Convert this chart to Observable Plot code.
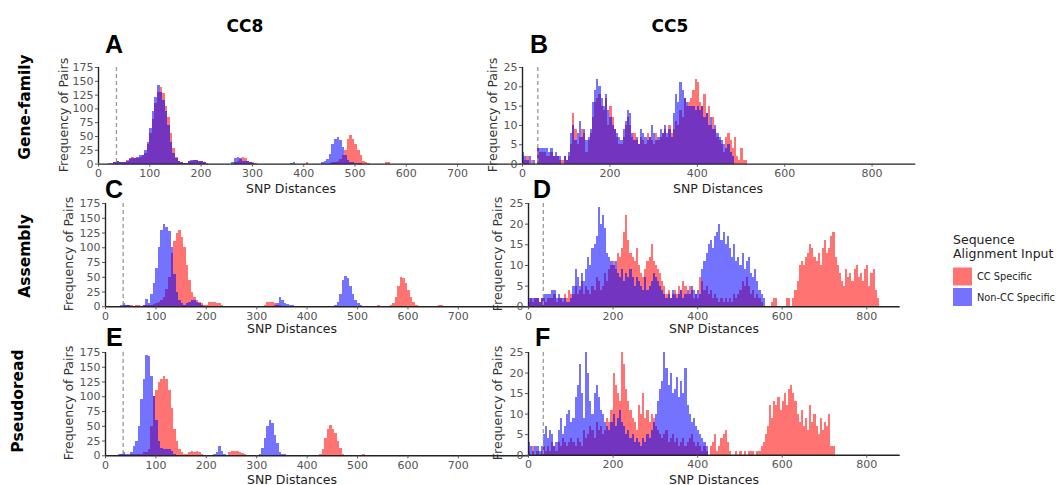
<!DOCTYPE html>
<html>
<head>
<meta charset="utf-8">
<script src="https://cdn.jsdelivr.net/npm/d3@7"></script>
<script src="https://cdn.jsdelivr.net/npm/@observablehq/plot@0.6"></script>
<style>
  html, body { margin: 0; padding: 0; background: #fff; }
  #wrap { position: relative; width: 1064px; height: 485px; overflow: hidden; font-family: "DejaVu Sans", sans-serif; }
  #wrap svg.panel { position: absolute; }
  #overlay { position: absolute; left: 0; top: 0; pointer-events: none; }
</style>
</head>
<body>
<div id="wrap"></div>
<script>
// ---------------- DATA ----------------
const BIN = 5;               // histogram bin width (SNP distances)
const threshold = [35];      // dashed SNP threshold
const cc8Ticks = [0, 100, 200, 300, 400, 500, 600, 700];
const cc5Ticks = [0, 200, 400, 600, 800];
const cc8YTicks = [0, 25, 50, 75, 100, 125, 150, 175];
const cc5YTicks = [0, 5, 10, 15, 20, 25];
const seriesNames = ["CC Specific", "Non-CC Specific"];
const seriesColors = ["red", "blue"];

// CC8 panels: first bin starts at 20
const cc8Start = 20;
// A: CC8 Gene-family
const aRed = [0,1,2,4,3,2,3,6, 8,12,10,10,12,15,20,35, 55,80,110,130,138,128,105,85, 55,28,12,5,2,1,1,4,
  5,6,6,5,5,3,1,0, 0,0,0,0,0,0,0,0, 0,2,5,8,12,10,5,3, 2,1,0,0,0,0,0,0, 0,0,0,0,0,0,0,0,
  0,0,0,0,0,3,0,0, 0,0,0,0,0,0,1,2, 3,5,8,15,25,45,52,45, 35,25,15,5,2,1,0,0, 0,0,0,0,3,2];
const aBlue = [1,0,2,5,3,3,2,5, 10,10,10,12,15,15,25,40, 65,95,120,142,130,115,95,70, 40,20,10,5,2,1,1,5,
  6,7,6,5,4,2,0,0, 0,0,0,0,0,0,0,0, 2,10,12,10,5,5,4,2, 1,0,0,0,0,0,0,0, 0,0,0,0,0,0,0,1,
  3,0,0,0,0,0,0,0, 0,0,0,3,5,8,18,35, 45,48,42,30,15,6,3,2, 1,1,1];
// C: CC8 Assembly
const cRed = [0,0,1,2,2,3,2,1, 2,2,1,2,2,3,3,4, 6,8,10,15,30,50,90,110, 125,130,118,100,70,45,25,15,
  10,8,5,3,2,8,7,8, 6,5,3,0,0,0,0,0, 0,0,0,0,0,0,0,0, 0,0,0,3,8,8,7,5, 3,2,0,0,0,0,0,0,
  0,0,0,0,0,0,0,0, 0,0,0,0,0,0,0,0, 0,0,0,0,0,0,0,0, 0,0,0,0,0,0,0,0, 2,0,0,0,0,3,5,15,
  35,50,48,40,28,15,8,3, 1,0,0,0,0,0,0,0, 3,2];
const cBlue = [0,1,2,5,3,2,1,1, 1,0,1,2,12,5,20,40, 65,100,130,140,135,128,100,55, 25,10,5,3,5,8,10,10,
  8,5,3,1,0,0,0,0, 0,0,0,0,0,0,0,0, 0,0,0,0,0,0,0,0, 0,0,0,0,0,0,0,2, 5,15,10,5,4,3,2,1,
  0,0,0,0,0,0,0,0, 0,0,0,0,0,0,0,3, 8,20,45,52,48,35,20,10, 5,2];
// E: CC8 Pseudoread
const eRed = [1,1,2,2,1,1,2,2, 2,3,3,5,5,10,50,100, 110,125,130,135,130,110,80,45, 25,10,5,3,2,5,8,6,
  8,5,3,1,0,0,0,0, 0,0,0,0,0,5,8,7, 8,6,4,2,0,0,0,0, 0,0,0,0,0,0,0,0, 0,0,0,0,0,0,0,0,
  0,0,0,0,0,0,0,0, 0,2,10,30,45,52,45,38, 25,12,3,0,0,0,0,0, 0,0,3,1];
const eBlue = [1,2,2,5,2,2,5,15, 25,50,95,130,170,168,135,100, 60,25,12,10,10,10,8,3, 1,0,0,0,0,0,0,0,
  0,0,0,0,0,0,0,2, 5,15,8,3,1,0,0,0, 0,0,0,0,0,0,0,0, 0,3,12,30,50,60,55,35, 20,5,2,2,1,1,1];

// CC5 panels: first bin starts at 0
const cc5Start = 0;
// B: CC5 Gene-family
const bRed = [2,1,2,0,1,0,0,4,3,3, 3,2,2,3,2,2,2,1,1,2, 1,2,5,13,9,5,7,9,8,3, 6,8,12,16,17,18,15,14,17,10,
  15,12,9,7,5,5,7,10,12,10, 7,8,6,5,7,6,5,8,7,6, 5,8,6,7,8,9,7,10,8,9, 11,10,14,12,17,15,16,17,19,22,
  21,16,15,18,13,15,10,12,9,7, 6,5,3,7,8,6,4,7,2,1, 4,1,1];
const bBlue = [3,2,1,2,0,1,0,4,4,4, 4,4,3,4,2,3,2,2,0,2, 1,3,8,10,6,8,11,7,9,6, 7,9,16,19,22,20,17,15,18,14,
  12,10,9,8,7,6,9,11,14,13, 8,6,7,5,9,8,7,6,7,10, 8,6,7,9,8,10,8,9,7,13, 18,16,21,19,17,16,15,15,15,14,
  15,14,15,12,13,10,12,9,10,8, 7,6,5,4,5,3,2];
// D: CC5 Assembly
const dRed = [1,2,1,2,2,1,2,2,1,2, 2,2,3,1,2,2,1,3,2,4, 3,3,5,3,4,6,3,5,4,3, 5,4,7,6,4,5,8,6,9,10,
  11,9,13,12,14,18,22,16,13,12, 11,14,10,8,7,9,11,12,15,11, 10,9,8,6,5,3,4,2,3,4, 3,5,4,6,5,3,5,4,2,3,
  2,7,6,4,5,3,4,2,3,2, 1,2,1,2,1,2,1,3,2,3, 4,6,5,7,5,3,4,2,3,2, 1,0,0,0,0,1,2,2,0,0,
  0,0,2,2,0,2,4,6,10,11, 10,12,13,15,14,12,11,13,10,14, 16,13,14,17,18,12,10,8,6,5, 9,7,8,6,9,10,7,8,6,9,
  10,5,8,9,4,2];
const dBlue = [2,2,2,2,2,1,2,3,3,3, 3,4,4,2,3,2,2,2,1,1, 2,5,9,7,5,8,6,9,12,10, 14,15,17,24,20,22,19,13,12,11,
  10,11,8,7,9,6,8,7,9,7, 5,7,6,5,4,7,4,5,6,8, 7,6,5,4,3,2,3,2,4,3, 2,3,4,2,3,4,3,5,4,3,
  4,3,9,11,13,15,16,14,17,18, 20,16,18,15,17,14,12,15,11,12, 10,13,9,11,12,8,7,9,6,4, 3,2];
// F: CC5 Pseudoread
const fRed = [1,0,2,0,1,0,1,2,1,2, 1,3,2,1,3,2,4,3,2,3, 4,3,2,4,3,2,6,4,5,7, 6,4,8,6,7,5,6,9,8,11,
  20,17,15,13,25,22,16,13,11,9, 8,6,12,10,15,9,11,8,10,9, 7,6,5,4,5,6,3,4,5,3, 4,2,3,4,2,3,4,5,3,2,
  3,2,1,2,1,0,2,3,5,1, 2,4,5,6,3,1,0,0,1,0, 1,0,1,0,1,1,1,0,1,1, 2,3,5,7,12,9,13,12,14,11,
  13,15,12,16,17,15,13,10,8,11, 7,9,6,12,8,10,7,5,9,6, 8,7,10,2,2];
const fBlue = [3,2,1,2,2,1,2,5,7,4, 6,5,2,3,6,9,5,7,10,11, 8,9,14,17,22,15,9,25,20,13, 10,15,17,14,11,10,8,7,6,8,
  10,7,9,11,8,7,5,6,4,5, 3,4,3,2,4,3,5,4,6,8, 10,13,16,18,25,21,17,20,15,16, 19,14,18,15,21,12,10,8,9,7,
  6,5,4,3,2];

// ---------------- LAYOUT ----------------
// axisExt: how far (in data units) the bottom axis line runs, reaching the next panel's y axis
const panels = [
  {red: aRed, blue: aBlue, start: cc8Start, xDomain: [0, 755], axisExt: 826, ymax: 175, xt: cc8Ticks, yt: cc8YTicks, L: 97.7, R: 485, T: 66.7, B: 163.3},
  {red: bRed, blue: bBlue, start: cc5Start, xDomain: [0, 900], axisExt: 900, ymax: 25, xt: cc5Ticks, yt: cc5YTicks, L: 521.7, R: 915, T: 66.7, B: 163.3},
  {red: cRed, blue: cBlue, start: cc8Start, xDomain: [0, 742], axisExt: 840, ymax: 175, xt: cc8Ticks, yt: cc8YTicks, L: 105, R: 479, T: 202.7, B: 306},
  {red: dRed, blue: dBlue, start: cc5Start, xDomain: [0, 879], axisExt: 879, ymax: 25, xt: cc5Ticks, yt: cc5YTicks, L: 528.3, R: 900, T: 202.7, B: 306},
  {red: eRed, blue: eBlue, start: cc8Start, xDomain: [0, 742], axisExt: 840, ymax: 175, xt: cc8Ticks, yt: cc8YTicks, L: 105, R: 479, T: 351.7, B: 455},
  {red: fRed, blue: fBlue, start: cc5Start, xDomain: [0, 879], axisExt: 879, ymax: 25, xt: cc5Ticks, yt: cc5YTicks, L: 528.3, R: 900, T: 352.3, B: 455}
];

const wrap = document.getElementById("wrap");
const toBins = (arr, start) => arr.map((c, i) => ({x0: start + i * BIN, x1: start + (i + 1) * BIN, count: c})).filter(d => d.count > 0);

const mL = 34, mR = 6, mT = 6, mB = 22;
for (const p of panels) {
  const plot = Plot.plot({
    width: (p.R - p.L) + mL + mR,
    height: (p.B - p.T) + mT + mB,
    marginLeft: mL, marginRight: mR, marginTop: mT, marginBottom: mB,
    style: {fontFamily: "DejaVu Sans", fontSize: "11px", color: "#555", background: "transparent", overflow: "visible"},
    x: {domain: p.xDomain},
    y: {domain: [0, p.ymax]},
    marks: [
      Plot.rect(toBins(p.red, p.start), {x1: "x0", x2: "x1", y1: 0, y2: "count", fill: seriesColors[0], fillOpacity: 0.55, shapeRendering: "crispEdges"}),
      Plot.rect(toBins(p.blue, p.start), {x1: "x0", x2: "x1", y1: 0, y2: "count", fill: seriesColors[1], fillOpacity: 0.55, shapeRendering: "crispEdges"}),
      Plot.ruleX(threshold, {stroke: "#999", strokeDasharray: "4,3", strokeWidth: 1.3}),
      Plot.ruleY([0], {x1: 0, x2: p.axisExt, stroke: "#222", strokeWidth: 1.4}),
      Plot.ruleX([0], {stroke: "#222", strokeWidth: 1.4}),
      Plot.axisX({ticks: p.xt, tickSize: 3, tickPadding: 2, label: null, tickFormat: d => String(d)}),
      Plot.axisY({ticks: p.yt, tickSize: 3, tickPadding: 2, label: null, tickFormat: d => String(d)})
    ]
  });
  plot.classList.add("panel");
  plot.style.left = (p.L - mL) + "px";
  plot.style.top = (p.T - mT) + "px";
  wrap.appendChild(plot);
}

// ---------------- TEXT OVERLAY ----------------
const colTitles = [["CC8", 245], ["CC5", 670]];
const letters = [["A", 105, 53], ["B", 530, 53], ["C", 105, 198], ["D", 533, 198], ["E", 106, 346], ["F", 535, 346]];
const rowLabels = [["Gene-family", 25, 107], ["Assembly", 25, 256], ["Pseudoread", 18, 401]];
const freqPos = [[63, 115], [492, 115], [68, 254], [497, 254], [68, 403], [497, 403]];
const snpPos = [[291, 188.5], [718, 188.5], [292, 328], [714, 328], [292, 479], [714, 479]];

let s = `<svg id="overlay" width="1064" height="485" xmlns="http://www.w3.org/2000/svg">`;
for (const [t, x] of colTitles)
  s += `<text x="${x}" y="32" text-anchor="middle" font-family="DejaVu Sans" font-weight="bold" font-size="17" fill="#000">${t}</text>`;
for (const [t, x, y] of letters)
  s += `<text x="${x}" y="${y}" font-family="Liberation Sans" font-weight="bold" font-size="25" fill="#000">${t}</text>`;
for (const [t, x, y] of rowLabels)
  s += `<text transform="translate(${x},${y}) rotate(-90)" text-anchor="middle" dominant-baseline="central" font-family="DejaVu Sans" font-weight="bold" font-size="15.5" fill="#000">${t}</text>`;
for (const [x, y] of freqPos)
  s += `<text transform="translate(${x},${y}) rotate(-90)" text-anchor="middle" dominant-baseline="central" font-family="DejaVu Sans" font-size="12.5" fill="#333">Frequency of Pairs</text>`;
for (const [x, y] of snpPos)
  s += `<text x="${x}" y="${y}" text-anchor="middle" dominant-baseline="central" font-family="DejaVu Sans" font-size="12.5" fill="#222">SNP Distances</text>`;
// legend
s += `<text x="953" y="244" font-family="DejaVu Sans" font-size="12.5" fill="#222">Sequence</text>`;
s += `<text x="953" y="258" font-family="DejaVu Sans" font-size="12.5" fill="#222">Alignment Input</text>`;
seriesNames.forEach((n, i) => {
  const y = 267.5 + i * 20.5;
  s += `<rect x="953" y="${y}" width="19" height="18" fill="${seriesColors[i]}" fill-opacity="0.55"/>`;
  s += `<text x="977" y="${y + 9}" dominant-baseline="central" font-family="DejaVu Sans" font-size="9.8" fill="#222">${n}</text>`;
});
s += `</svg>`;
wrap.insertAdjacentHTML("beforeend", s);
</script>
</body>
</html>
